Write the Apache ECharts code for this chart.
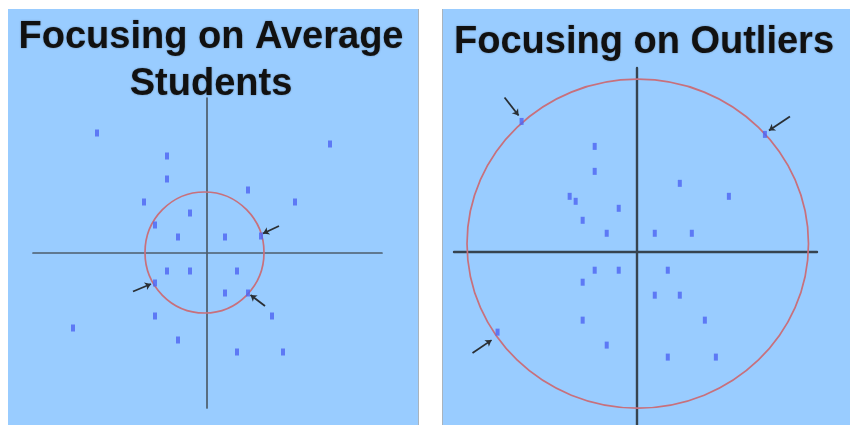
<!DOCTYPE html>
<html>
<head>
<meta charset="utf-8">
<script src="https://cdn.jsdelivr.net/npm/echarts@6/dist/echarts.min.js"></script>
<style>
html,body{margin:0;padding:0;background:#fff;}
#chart{width:850px;height:425px;}
</style>
</head>
<body>
<div id="chart"></div>
<script>
// ---- data ----
var titles = ['Focusing on Average\nStudents', 'Focusing on Outliers'];

var averageStudents = [
  [-11.0, 12.0], [12.3, 10.9], [-4.0, 9.7], [-4.0, 7.4], [4.1, 6.3],
  [-6.3, 5.1], [8.8, 5.1], [-1.7, 4.0], [-5.2, 2.8], [-2.9, 1.6],
  [1.8, 1.6], [5.4, 1.7], [-4.0, -1.8], [-1.7, -1.8], [3.0, -1.8],
  [-5.2, -3.0], [1.8, -4.0], [4.1, -4.0], [-5.2, -6.3], [6.5, -6.3],
  [-13.4, -7.5], [-2.9, -8.7], [3.0, -9.9], [7.6, -9.9]
];
var outlierStudents = [
  [-11.5, 13.1], [12.8, 11.8], [-4.2, 10.6], [-4.2, 8.1], [4.3, 6.9],
  [9.2, 5.6], [-6.7, 5.6], [-6.1, 5.1], [-1.8, 4.4], [-5.4, 3.2],
  [-3.0, 1.9], [1.8, 1.9], [5.5, 1.9], [-4.2, -1.8], [-1.8, -1.8],
  [3.1, -1.8], [-5.4, -3.0], [1.8, -4.3], [4.3, -4.3], [-5.4, -6.8],
  [6.8, -6.8], [-13.9, -8.0], [-3.0, -9.3], [3.1, -10.5], [7.9, -10.5]
];
// focus rings: [centerX, centerY, radiusX, radiusY]
var averageRing = [-0.25, 0.05, 5.95, 6.05];
var outlierRing = [0.1, 0.86, 17.05, 16.47];
// arrows: [[fromX, fromY], [toX, toY]]
var averageArrows = [
  [[7.2, 2.7], [5.6, 1.95]],
  [[-7.4, -3.85], [-5.6, -3.1]],
  [[5.8, -5.3], [4.35, -4.2]]
];
var outlierArrows = [
  [[-13.2, 15.5], [-11.8, 13.7]],
  [[15.3, 13.6], [13.2, 12.2]],
  [[-16.4, -10.1], [-14.5, -8.8]]
];

// ---- chart ----
var chart = echarts.init(document.getElementById('chart'), null, {renderer: 'canvas'});
var PANEL = '#99ccff';
var POINT = '#4d64f2';
var RING = '#c8707c';

function axisPair(idx, xr, yr, lineColor, lineWidth) {
  var line = {show: true, onZero: true, lineStyle: {color: lineColor, width: lineWidth}};
  return {
    x: {type: 'value', gridIndex: idx, min: xr[0], max: xr[1], axisLine: line,
        axisTick: {show: false}, axisLabel: {show: false}, splitLine: {show: false}},
    y: {type: 'value', gridIndex: idx, min: yr[0], max: yr[1], axisLine: line,
        axisTick: {show: false}, axisLabel: {show: false}, splitLine: {show: false}}
  };
}
var a0 = axisPair(0, [-17.4, 17.5], [-15.5, 15.5], '#4d5d6c', 1.7);
var a1 = axisPair(1, [-18.25, 18.0], [-17.3, 18.45], '#36434f', 2.4);

function ringSeries(idx, ring) {
  return {
    type: 'custom', xAxisIndex: idx, yAxisIndex: idx, silent: true, z: 3,
    data: [ring],
    renderItem: function (params, api) {
      var c = api.coord([api.value(0), api.value(1)]);
      var s = api.size([api.value(2), api.value(3)]);
      return {
        type: 'ellipse',
        shape: {cx: c[0], cy: c[1], rx: s[0], ry: s[1]},
        style: {fill: 'none', stroke: RING, lineWidth: 1.7}
      };
    }
  };
}
function arrowSeries(idx, arrows) {
  return {
    type: 'lines', coordinateSystem: 'cartesian2d', xAxisIndex: idx, yAxisIndex: idx,
    silent: true, z: 5,
    symbol: ['none', 'arrow'], symbolSize: 6,
    lineStyle: {color: '#2a2f34', width: 1.8, opacity: 1},
    data: arrows.map(function (a) { return {coords: a}; })
  };
}
function pointSeries(idx, pts) {
  return {
    type: 'scatter', xAxisIndex: idx, yAxisIndex: idx, silent: true, z: 4,
    symbol: 'rect', symbolSize: [4, 7],
    itemStyle: {color: POINT},
    data: pts
  };
}

var titleStyle = {fontFamily: '"Liberation Sans", Arial, sans-serif', fontWeight: 'bold', fontSize: 38,
                  lineHeight: 47, color: '#111111', textShadowColor: 'rgba(0,0,0,0.35)', textShadowBlur: 2};

var option = {
  backgroundColor: '#ffffff',
  animation: false,
  graphic: [
    {type: 'rect', z: -10, silent: true, shape: {x: 8, y: 9, width: 411, height: 416}, style: {fill: PANEL}},
    {type: 'rect', z: -10, silent: true, shape: {x: 442, y: 9, width: 408, height: 416}, style: {fill: PANEL}},
    {type: 'line', z: -9, silent: true, shape: {x1: 418.5, y1: 9, x2: 418.5, y2: 425}, style: {stroke: '#a9b3bd', lineWidth: 1}},
    {type: 'line', z: -9, silent: true, shape: {x1: 442.5, y1: 9, x2: 442.5, y2: 425}, style: {stroke: '#a9b3bd', lineWidth: 1}}
  ],
  title: [
    {text: titles[0], left: 211, top: 14, textAlign: 'center', padding: 0, textStyle: titleStyle},
    {text: titles[1], left: 644, top: 19, textAlign: 'center', padding: 0, textStyle: titleStyle}
  ],
  grid: [
    {left: 33, top: 98, width: 349, height: 310},
    {left: 454, top: 68, width: 363, height: 357}
  ],
  xAxis: [a0.x, a1.x],
  yAxis: [a0.y, a1.y],
  series: [
    ringSeries(0, averageRing),
    pointSeries(0, averageStudents),
    arrowSeries(0, averageArrows),
    ringSeries(1, outlierRing),
    pointSeries(1, outlierStudents),
    arrowSeries(1, outlierArrows)
  ]
};
chart.setOption(option);
</script>
</body>
</html>
